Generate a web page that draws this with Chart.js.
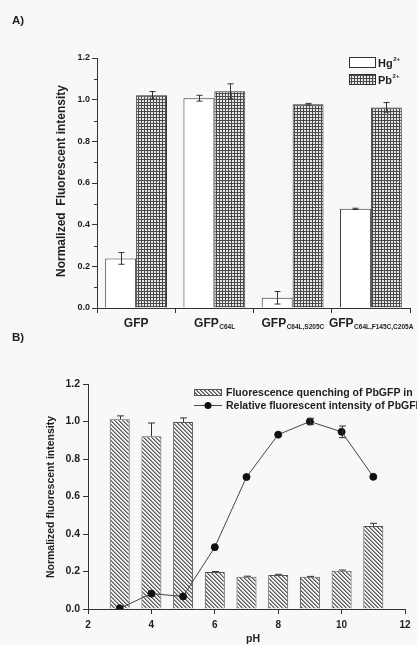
<!DOCTYPE html>
<html>
<head>
<meta charset="utf-8">
<script src="https://cdn.jsdelivr.net/npm/chart.js@4.4.1/dist/chart.umd.min.js"></script>
<style>
  html, body { margin: 0; padding: 0; background: #f8f8f8; }
  #wrap { position: relative; width: 417px; height: 645px; overflow: hidden; }
  #chartA { position: absolute; left: 0; top: 0; width: 417px; height: 330px; }
  #chartB { position: absolute; left: 0; top: 330px; width: 417px; height: 315px; }
</style>
</head>
<body>
<div id="wrap">
  <canvas id="chartA" width="417" height="330"></canvas>
  <canvas id="chartB" width="417" height="315"></canvas>
</div>
<script>
//// data for panel A

let variantNames = ['GFP', 'GFP', 'GFP', 'GFP'];
let variantSubs = ['', 'C64L', 'C64L,S205C', 'C64L,F145C,C205A'];
let ionNames = ['Hg', 'Pb'];
let ionCharges = ['2+', '2+'];
let hgValues = [0.238, 1.007, 0.049, 0.476];
let hgErr = [0.028, 0.014, 0.03, 0.003];
let pbValues = [1.021, 1.04, 0.978, 0.963];
let pbErr = [0.018, 0.036, 0.004, 0.023];
let yTicksA = [0, 0.2, 0.4, 0.6, 0.8, 1.0, 1.2];

//// data for panel B

let phValues = [3, 4, 5, 6, 7, 8, 9, 10, 11];
let quenching = [1.012, 0.922, 0.998, 0.197, 0.172, 0.181, 0.172, 0.204, 0.443];
let quenchingErr = [0.018, 0.07, 0.021, 0.003, 0.003, 0.004, 0.002, 0.004, 0.014];
let relIntensity = [0.004, 0.082, 0.067, 0.33, 0.704, 0.93, 1.0, 0.945, 0.705];
let relIntensityErr = [0, 0, 0, 0, 0, 0, 0.017, 0.031, 0];
let seriesNamesB = ['Fluorescence quenching of PbGFP in', 'Relative fluorescent intensity of PbGFP'];

let FONT = '"Liberation Sans", Arial, sans-serif';
let INK = '#1e1e1e';
Chart.defaults.font.family = FONT;
Chart.defaults.color = INK;

/// fill patterns

function makeGridPattern() {
    let c = document.createElement('canvas');
    c.width = 3; c.height = 3;
    let g = c.getContext('2d');
    g.fillStyle = '#e6e6e6';
    g.fillRect(0, 0, 3, 3);
    g.fillStyle = '#4a4a4a';
    g.fillRect(0, 0, 3, 1);
    g.fillRect(0, 0, 1, 3);
    return g.createPattern(c, 'repeat');
}

function makeHatchPattern() {
    let c = document.createElement('canvas');
    c.width = 4; c.height = 4;
    let g = c.getContext('2d');
    g.fillStyle = '#f4f4f4';
    g.fillRect(0, 0, 4, 4);
    for (let i = 0; i < 4; i++) {
        g.fillStyle = '#555';
        g.fillRect(i, i, 1, 1);
        g.fillStyle = '#9a9a9a';
        g.fillRect((i + 1) % 4, i, 1, 1);
    }
    return g.createPattern(c, 'repeat');
}

let gridFill = makeGridPattern();
let hatchFill = makeHatchPattern();

/// shared plugin: error bars from dataset.errors

let errorBarPlugin = {
    id: 'errorBars',
    afterDatasetsDraw(chart) {
        let ctx = chart.ctx;
        chart.data.datasets.forEach(function(ds, di) {
            if (!ds.errors) return;
            let meta = chart.getDatasetMeta(di);
            let yScale = chart.scales[meta.yAxisID];
            ctx.save();
            ctx.strokeStyle = '#333';
            ctx.lineWidth = 1;
            meta.data.forEach(function(el, i) {
                let e = ds.errors[i];
                if (!e) return;
                let v = meta.controller.getParsed(i).y;
                let x = Math.round(el.x) + 0.5;
                let top = yScale.getPixelForValue(v + e);
                let bot = ds.errorUpOnly ? el.y : yScale.getPixelForValue(v - e);
                let w = ds.capHalf || 3;
                ctx.beginPath();
                ctx.moveTo(x, top); ctx.lineTo(x, bot);
                ctx.moveTo(x - w, top); ctx.lineTo(x + w, top);
                if (!ds.errorUpOnly) {
                    ctx.moveTo(x - w, bot); ctx.lineTo(x + w, bot);
                }
                ctx.stroke();
            });
            ctx.restore();
        });
    }
};

/// panel A decorations: minor ticks, subscript labels, legend, titles

let panelAPlugin = {
    id: 'panelA',
    afterDraw(chart) {
        let ctx = chart.ctx;
        let xs = chart.scales.x;
        let ys = chart.scales.y;
        ctx.save();

        // minor ticks
        ctx.strokeStyle = '#333';
        ctx.lineWidth = 1;
        for (let i = 0; i < yTicksA.length - 1; i++) {
            let y = Math.round(ys.getPixelForValue((yTicksA[i] + yTicksA[i + 1]) / 2)) + 0.5;
            ctx.beginPath();
            ctx.moveTo(ys.right, y);
            ctx.lineTo(ys.right - 3, y);
            ctx.stroke();
        }

        // category labels with subscripts
        ctx.fillStyle = INK;
        ctx.textBaseline = 'alphabetic';
        ctx.textAlign = 'left';
        for (let i = 0; i < variantNames.length; i++) {
            let cx = xs.getPixelForValue(i);
            ctx.font = 'bold 12px ' + FONT;
            let wMain = ctx.measureText(variantNames[i]).width;
            ctx.font = 'bold 6.5px ' + FONT;
            let wSub = ctx.measureText(variantSubs[i]).width;
            let start = cx - (wMain + wSub) / 2;
            ctx.font = 'bold 12px ' + FONT;
            ctx.fillText(variantNames[i], start, 327);
            ctx.font = 'bold 6.5px ' + FONT;
            ctx.fillText(variantSubs[i], start + wMain + 0.5, 329);
        }

        // legend
        let fills = ['#ffffff', gridFill];
        for (let i = 0; i < ionNames.length; i++) {
            let by = 57 + i * 17;
            ctx.fillStyle = fills[i];
            ctx.fillRect(349, by, 27, 11);
            ctx.strokeStyle = '#333';
            ctx.strokeRect(349.5, by + 0.5, 26, 10);
            ctx.fillStyle = INK;
            ctx.font = 'bold 11px ' + FONT;
            ctx.fillText(ionNames[i], 378, by + 10);
            let w = ctx.measureText(ionNames[i]).width;
            ctx.font = 'bold 6px ' + FONT;
            ctx.fillText(ionCharges[i], 378 + w + 0.5, by + 4);
        }

        // panel letter
        ctx.font = 'bold 11.5px ' + FONT;
        ctx.fillText('A)', 12, 24);

        // y title
        ctx.translate(62, 181);
        ctx.rotate(-Math.PI / 2);
        ctx.textAlign = 'center';
        ctx.textBaseline = 'middle';
        ctx.font = 'bold 12px ' + FONT;
        ctx.fillText('Normalized  Fluorescent intensity', 0, 0);
        ctx.restore();
    }
};

/// panel B decorations: legend, titles

let panelBPlugin = {
    id: 'panelB',
    afterDraw(chart) {
        let ctx = chart.ctx;
        ctx.save();
        ctx.fillStyle = INK;
        ctx.textBaseline = 'middle';
        ctx.textAlign = 'left';

        // legend row 1 (hatched box)
        ctx.fillStyle = hatchFill;
        ctx.fillRect(194, 59, 28, 7);
        ctx.strokeStyle = '#555';
        ctx.lineWidth = 1;
        ctx.strokeRect(194.5, 59.5, 27, 6);
        ctx.fillStyle = INK;
        ctx.font = 'bold 10.5px ' + FONT;
        ctx.fillText(seriesNamesB[0], 226, 63);

        // legend row 2 (line + dot)
        ctx.strokeStyle = '#444';
        ctx.beginPath();
        ctx.moveTo(194, 75.5);
        ctx.lineTo(222, 75.5);
        ctx.stroke();
        ctx.fillStyle = '#111';
        ctx.beginPath();
        ctx.arc(208, 75.5, 3.5, 0, Math.PI * 2);
        ctx.fill();
        ctx.fillStyle = INK;
        ctx.fillText(seriesNamesB[1], 226, 76);

        // panel letter
        ctx.font = 'bold 11.5px ' + FONT;
        ctx.fillText('B)', 12, 8);

        // x title
        ctx.textAlign = 'center';
        ctx.font = 'bold 10.5px ' + FONT;
        ctx.fillText('pH', 253, 309);

        // y title
        ctx.translate(51, 167);
        ctx.rotate(-Math.PI / 2);
        ctx.fillText('Normalized fluorescent intensity', 0, 0);
        ctx.restore();
    }
};

//// chart A

new Chart(document.getElementById('chartA').getContext('2d'), {
    type: 'bar',
    data: {
        labels: variantSubs.map((s, i) => variantNames[i] + ' ' + s),
        datasets: [
            {
                label: ionNames[0],
                data: hgValues,
                errors: hgErr,
                capHalf: 3,
                backgroundColor: '#ffffff',
                borderColor: '#333',
                borderWidth: 1,
                categoryPercentage: 0.79,
                barPercentage: 1.0
            },
            {
                label: ionNames[1],
                data: pbValues,
                errors: pbErr,
                capHalf: 3,
                backgroundColor: gridFill,
                borderColor: '#333',
                borderWidth: 1,
                categoryPercentage: 0.79,
                barPercentage: 1.0
            }
        ]
    },
    options: {
        responsive: false,
        animation: false,
        layout: { padding: { top: 58, right: 7, left: 0, bottom: 0 } },
        plugins: { legend: { display: false }, tooltip: { enabled: false } },
        scales: {
            x: {
                offset: true,
                grid: { offset: true, drawOnChartArea: false, tickLength: 5, color: '#333' },
                border: { display: true, color: '#333', width: 1 },
                ticks: { display: false },
                afterFit: function(axis) { axis.height = 22; }
            },
            y: {
                min: 0,
                max: 1.2,
                grid: { drawOnChartArea: false, tickLength: 5, color: '#333' },
                border: { display: true, color: '#333', width: 1 },
                ticks: {
                    stepSize: 0.2,
                    padding: 2,
                    font: { size: 9, weight: 'bold' },
                    callback: function(v) { return v.toFixed(1); }
                },
                afterFit: function(axis) { axis.width = 97; }
            }
        }
    },
    plugins: [errorBarPlugin, panelAPlugin]
});

//// chart B

new Chart(document.getElementById('chartB').getContext('2d'), {
    type: 'bar',
    data: {
        datasets: [
            {
                type: 'line',
                label: seriesNamesB[1],
                data: phValues.map((p, i) => ({ x: p, y: relIntensity[i] })),
                errors: relIntensityErr,
                capHalf: 3.5,
                borderColor: '#444',
                borderWidth: 1,
                pointRadius: 3.5,
                pointBackgroundColor: '#111',
                pointBorderColor: '#111',
                tension: 0,
                order: 0
            },
            {
                label: seriesNamesB[0],
                data: phValues.map((p, i) => ({ x: p, y: quenching[i] })),
                errors: quenchingErr,
                errorUpOnly: true,
                capHalf: 3.5,
                backgroundColor: hatchFill,
                borderColor: '#555',
                borderWidth: 1,
                categoryPercentage: 0.7,
                barPercentage: 0.9,
                order: 1
            }
        ]
    },
    options: {
        responsive: false,
        animation: false,
        layout: { padding: { top: 54, right: 12, left: 0, bottom: 0 } },
        plugins: { legend: { display: false }, tooltip: { enabled: false } },
        scales: {
            x: {
                type: 'linear',
                min: 2,
                max: 12,
                offset: false,
                grid: { offset: false, drawOnChartArea: false, tickLength: 5, color: '#333' },
                border: { display: true, color: '#333', width: 1 },
                ticks: { stepSize: 2, padding: 5, font: { size: 10, weight: 'bold' } },
                afterFit: function(axis) { axis.height = 36; }
            },
            y: {
                min: 0,
                max: 1.2,
                grid: { drawOnChartArea: false, tickLength: 5, color: '#333' },
                border: { display: true, color: '#333', width: 1 },
                ticks: {
                    stepSize: 0.2,
                    padding: 3,
                    font: { size: 10.5, weight: 'bold' },
                    callback: function(v) { return v.toFixed(1); }
                },
                afterFit: function(axis) { axis.width = 88; }
            }
        }
    },
    plugins: [errorBarPlugin, panelBPlugin]
});
</script>
</body>
</html>
